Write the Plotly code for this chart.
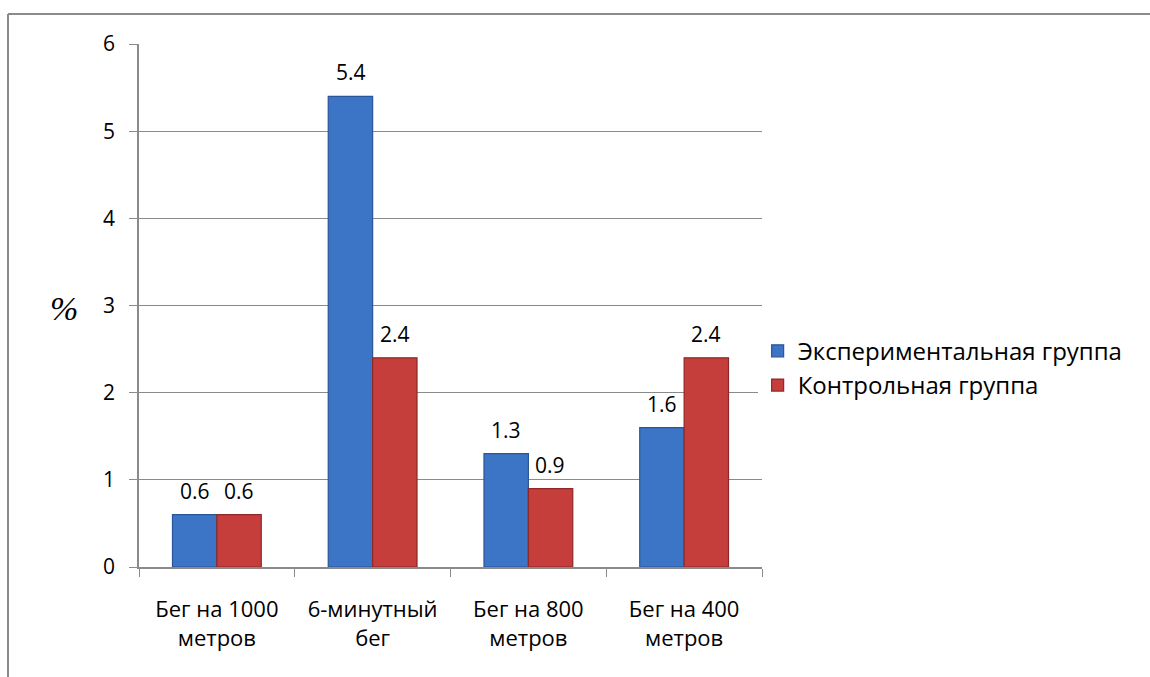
import plotly.graph_objects as go

categories = ["Бег на 1000<br>метров", "6-минутный<br>бег", "Бег на 800<br>метров", "Бег на 400<br>метров"]
experimental = [0.6, 5.4, 1.3, 1.6]
control = [0.6, 2.4, 0.9, 2.4]
y_ticks = [0, 1, 2, 3, 4, 5, 6]

FONT = "Open Sans"
FS = 21
W, H = 1150, 677
L, R, T, B = 139, 388, 44, 110

fig = go.Figure()
fig.add_trace(go.Bar(
    x=categories, y=experimental, name="Экспериментальная группа",
    marker=dict(color="#3c75c6", line=dict(color="#2a5597", width=1.2)),
))
fig.add_trace(go.Bar(
    x=categories, y=control, name="Контрольная группа",
    marker=dict(color="#c63e3b", line=dict(color="#8e2826", width=1.2)),
))

# value labels above each bar
for series, shift in ((experimental, -22), (control, 22)):
    for cat, val in zip(categories, series):
        fig.add_annotation(
            x=cat, y=val, text=f"{val:g}", showarrow=False,
            xshift=shift, yshift=8, yanchor="bottom",
            font=dict(family=FONT, size=FS, color="#000"),
        )

pw, ph = W - L - R, H - T - B
def px_x(x):
    return (x - L) / pw
def px_y(y):
    return (H - B - y) / ph

# outer chart frame (top and left edges)
fig.add_shape(type="line", xref="paper", yref="paper",
              x0=px_x(8), y0=px_y(14), x1=px_x(W + 5), y1=px_y(14),
              line=dict(color="#8a8a8a", width=2))
fig.add_shape(type="line", xref="paper", yref="paper",
              x0=px_x(8), y0=px_y(14), x1=px_x(8), y1=px_y(H + 5),
              line=dict(color="#8a8a8a", width=2))

fig.add_annotation(
    x=px_x(48), y=px_y(309), xref="paper", yref="paper", text="<i>%</i>",
    xanchor="left", showarrow=False,
    font=dict(family="Liberation Serif", size=34, color="#000"),
)

fig.update_layout(
    width=W, height=H,
    margin=dict(l=L, r=R, t=T, b=B),
    plot_bgcolor="white", paper_bgcolor="white",
    barmode="group", bargap=0.43, bargroupgap=0,
    font=dict(family=FONT, size=FS, color="#000"),
    showlegend=True,
    legend=dict(x=0.993, y=0.38, xanchor="left", yanchor="middle",
                font=dict(family=FONT, size=24, color="#000"),
                itemwidth=30, tracegroupgap=2),
    xaxis=dict(
        showline=True, linecolor="#8a8a8a", linewidth=1.5,
        ticks="outside", tickson="boundaries", ticklen=8, tickcolor="#8a8a8a",
        showgrid=False, tickfont=dict(family=FONT, size=22),
        ticklabelstandoff=22,
    ),
    yaxis=dict(
        range=[0, 6], tickvals=y_ticks, ticktext=[str(t) for t in y_ticks],
        showline=True, linecolor="#8a8a8a", linewidth=1.5,
        ticks="outside", ticklen=8, tickcolor="#8a8a8a",
        showgrid=True, gridcolor="#8a8a8a", gridwidth=1.2,
        zeroline=False, tickfont=dict(family=FONT, size=FS),
        ticklabelstandoff=10,
    ),
)

fig.write_html("out.html")
